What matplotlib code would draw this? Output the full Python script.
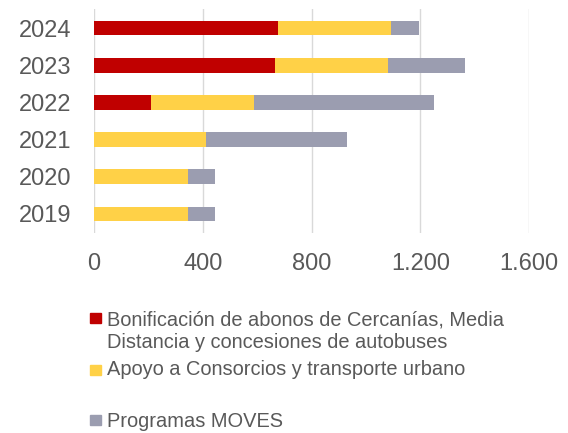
import matplotlib
matplotlib.use("Agg")
import matplotlib.pyplot as plt
from matplotlib.patches import Rectangle

years = ["2019", "2020", "2021", "2022", "2023", "2024"]
bonificacion = [0, 0, 0, 211, 667, 677]
apoyo = [345, 345, 412, 377, 416, 416]
moves = [100, 100, 520, 663, 281, 104]
series_labels = [
    "Bonificación de abonos de Cercanías, Media\nDistancia y concesiones de autobuses",
    "Apoyo a Consorcios y transporte urbano",
    "Programas MOVES",
]
colors = ["#C00000", "#FFD147", "#9B9DB0"]
xticks = [0, 400, 800, 1200, 1600]
xtick_labels = ["0", "400", "800", "1.200", "1.600"]

plt.rcParams["font.family"] = ["Liberation Sans", "DejaVu Sans"]
txt = "#595959"

W, H = 568, 433
fig = plt.figure(figsize=(W / 100, H / 100), dpi=100)
ax = fig.add_axes([94 / W, 1 - 232.6 / H, (529 - 94) / W, (232.6 - 9.4) / H])

y = list(range(len(years)))
left = [0] * len(years)
for vals, c in zip([bonificacion, apoyo, moves], colors):
    ax.barh(y, vals, left=left, height=0.4, color=c, zorder=3)
    left = [l + v for l, v in zip(left, vals)]

ax.set_xlim(0, 1600)
ax.set_ylim(-0.5, len(years) - 0.5)
ax.set_xticks(xticks)
ax.set_xticklabels(xtick_labels)
ax.set_yticks(y)
ax.set_yticklabels(years)
ax.tick_params(axis="x", length=0, pad=15, labelsize=17, labelcolor=txt)
ax.tick_params(axis="y", length=0, pad=16, labelsize=17, labelcolor=txt)
ax.grid(axis="x", color="#D9D9D9", linewidth=1.0, zorder=0)
for s in ax.spines.values():
    s.set_visible(False)

# legend (manual layout)
sq_centers = [317.7, 370, 420]
baselines = [348.3, 375, 426.7]
for lab, c, yc, yb in zip(series_labels, colors, sq_centers, baselines):
    fig.patches.append(Rectangle((90 / W, 1 - (yc + 5) / H), 11 / W, 10 / H,
                                 transform=fig.transFigure, color=c))
    fig.text(106.7 / W, 1 - yb / H, lab, fontsize=14.4, color=txt,
             va="baseline", ha="left", linespacing=1.24)

fig.savefig("out.png", dpi=100)
